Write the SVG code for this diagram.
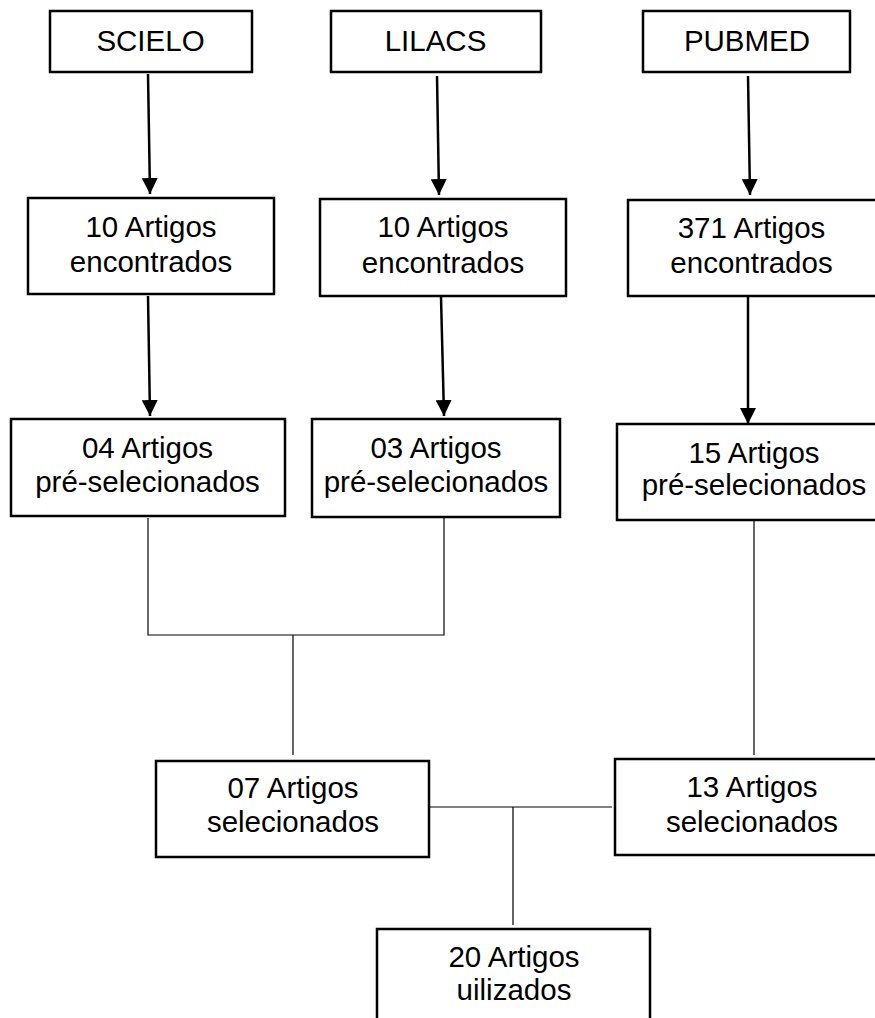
<svg xmlns="http://www.w3.org/2000/svg" width="875" height="1018" viewBox="0 0 875 1018">
<style>
.box{fill:#fff;stroke:#000;stroke-width:2.5}
.t{font-family:"Liberation Sans",Arial,sans-serif;font-size:29.5px;fill:#000;text-anchor:middle}
.arr{stroke:#000;stroke-width:2.5;fill:none;marker-end:url(#ah)}
.ln{stroke:#000;stroke-width:1.2;fill:none}
</style>
<defs>
<marker id="ah" markerUnits="userSpaceOnUse" markerWidth="16" markerHeight="16" viewBox="0 0 16 16" refX="16" refY="8" orient="auto">
<path d="M0,0 L16,8 L0,16 Z" fill="#000"/>
</marker>
</defs>
<rect width="875" height="1018" fill="#fff"/>
<g id="connectors">
<path class="arr" d="M148,74 L150,194"/>
<path class="arr" d="M437,76 L439,195"/>
<path class="arr" d="M748,76 L750,195"/>
<path class="arr" d="M148,296 L150,416"/>
<path class="arr" d="M441,297 L444,416"/>
<path class="arr" d="M748,297 L748,424"/>
<path class="ln" d="M148,518 L148,635 L444,635 L444,518"/>
<path class="ln" d="M293,635 L293,755"/>
<path class="ln" d="M754,521 L754,755"/>
<path class="ln" d="M427,807 L612,807"/>
<path class="ln" d="M513,807 L513,925"/>
</g>
<g id="scielo"><rect class="box" x="50" y="11" width="202" height="61"/><text class="t" x="150.5" y="51">SCIELO</text></g>
<g id="lilacs"><rect class="box" x="331" y="11" width="210" height="61"/><text class="t" x="435.5" y="51">LILACS</text></g>
<g id="pubmed"><rect class="box" x="643" y="11" width="207" height="61"/><text class="t" x="747" y="51">PUBMED</text></g>
<g id="enc1"><rect class="box" x="28" y="198" width="246" height="96"/><text class="t" x="151" y="237">10 Artigos</text><text class="t" x="151" y="272">encontrados</text></g>
<g id="enc2"><rect class="box" x="320" y="199" width="246" height="97"/><text class="t" x="443" y="237">10 Artigos</text><text class="t" x="443" y="273">encontrados</text></g>
<g id="enc3"><rect class="box" x="628" y="200" width="260" height="96"/><text class="t" x="751.5" y="238">371 Artigos</text><text class="t" x="751.5" y="273">encontrados</text></g>
<g id="pre1"><rect class="box" x="11" y="419" width="274" height="97"/><text class="t" x="147.5" y="458">04 Artigos</text><text class="t" x="147.5" y="492">pré-selecionados</text></g>
<g id="pre2"><rect class="box" x="312" y="419" width="248" height="98"/><text class="t" x="436" y="458">03 Artigos</text><text class="t" x="436" y="492">pré-selecionados</text></g>
<g id="pre3"><rect class="box" x="617" y="424" width="270" height="96"/><text class="t" x="754" y="463">15 Artigos</text><text class="t" x="754" y="495">pré-selecionados</text></g>
<g id="sel1"><rect class="box" x="156" y="761" width="273" height="96"/><text class="t" x="293" y="798">07 Artigos</text><text class="t" x="293" y="832">selecionados</text></g>
<g id="sel2"><rect class="box" x="615" y="759" width="272" height="96"/><text class="t" x="752" y="797">13 Artigos</text><text class="t" x="752" y="832">selecionados</text></g>
<g id="used"><rect class="box" x="377" y="929" width="273" height="110"/><text class="t" x="514" y="967">20 Artigos</text><text class="t" x="514" y="1000">uilizados</text></g>
</svg>
